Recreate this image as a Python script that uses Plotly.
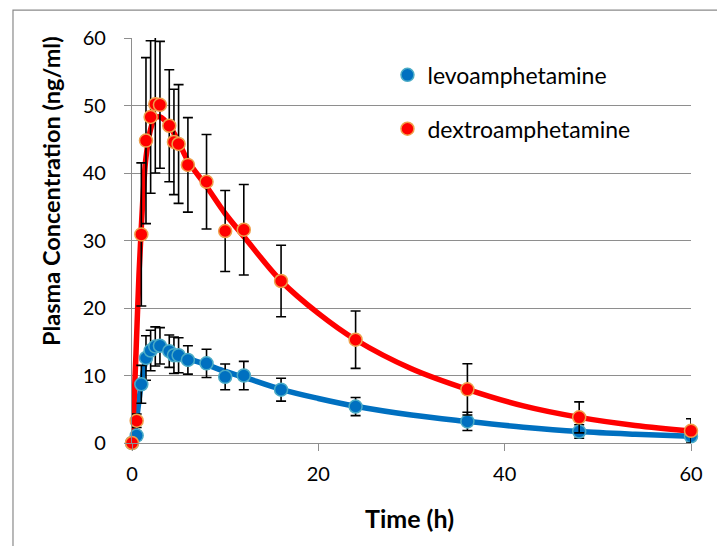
import plotly.graph_objects as go

# Sampling times (h) of the measured concentrations
time_h = [0, 0.5, 1, 1.5, 2, 2.5, 3, 4, 4.5, 5, 6, 8, 10, 12, 16, 24, 36, 48, 60]

# Mean plasma concentrations (ng/ml) and standard deviations
levo_mean = [0.0, 1.1, 8.7, 12.6, 13.7, 14.3, 14.4, 13.6, 13.0, 13.0, 12.3, 11.8,
             9.8, 10.0, 7.9, 5.4, 3.2, 1.7, 1.0]
levo_sd = [0.0, 0.6, 2.8, 3.3, 3.0, 2.9, 2.7, 2.4, 2.7, 2.6, 2.1, 2.1,
           1.9, 2.1, 1.7, 1.35, 1.35, 1.0, 0.7]
dextro_mean = [0.0, 3.3, 30.9, 44.8, 48.3, 50.2, 50.1, 47.0, 44.6, 44.3, 41.2, 38.7,
               31.4, 31.6, 24.0, 15.3, 7.95, 3.8, 1.8]
dextro_sd = [0.0, 1.0, 10.6, 12.3, 11.3, 10.2, 9.4, 8.3, 7.8, 8.8, 7.0, 7.0,
             6.0, 6.7, 5.3, 4.25, 3.8, 2.3, 1.8]

# Fitted concentration-time profiles
fit_time = [0, 0.25, 0.5, 0.75, 1, 1.25, 1.5, 2, 2.5, 3, 4, 5, 6, 8, 10, 12,
            16, 20, 24, 30, 36, 42, 48, 54, 60]
levo_fit = [0.0, 1.5, 3.6, 6.3, 8.8, 10.8, 12.2, 13.6, 14.1, 14.1, 13.6, 13.0,
            12.5, 11.6, 10.6, 9.75, 7.95, 6.6, 5.45, 4.15, 3.2, 2.35, 1.7, 1.3, 1.0]
dextro_fit = [0.0, 7.0, 16.0, 25.0, 32.0, 38.0, 42.3, 46.5, 48.2, 48.3, 47.0, 44.6,
              41.8, 38.0, 34.0, 30.6, 24.0, 19.2, 15.3, 11.0, 7.95, 5.5, 3.8, 2.6, 1.78]

BLUE = "#0070C0"
RED = "#FF0000"
GRID = "#8E8E8E"
FONT = "Lato, 'Open Sans', sans-serif"

fig = go.Figure()

fig.add_trace(go.Scatter(
    x=fit_time, y=levo_fit, mode="lines", line=dict(color=BLUE, width=5.5, shape="spline"),
    showlegend=False, hoverinfo="skip", cliponaxis=False))
fig.add_trace(go.Scatter(
    x=fit_time, y=dextro_fit, mode="lines", line=dict(color=RED, width=5.5, shape="spline"),
    showlegend=False, hoverinfo="skip", cliponaxis=False))

fig.add_trace(go.Scatter(
    x=time_h, y=levo_mean, mode="markers", name="levoamphetamine", legendgroup="levo",
    marker=dict(color=BLUE, size=13, line=dict(color="#4BACC6", width=1.5)),
    error_y=dict(type="data", array=levo_sd, visible=True, color="black",
                 thickness=1.6, width=5),
    cliponaxis=False))
fig.add_trace(go.Scatter(
    x=time_h, y=dextro_mean, mode="markers", name="dextroamphetamine", legendgroup="dextro",
    marker=dict(color=RED, size=13, line=dict(color="#F0A04B", width=1.5)),
    error_y=dict(type="data", array=dextro_sd, visible=True, color="black",
                 thickness=1.6, width=5),
    cliponaxis=False))

fig.update_layout(
    width=717, height=546,
    margin=dict(l=132, r=26, t=38, b=103),
    paper_bgcolor="white", plot_bgcolor="white",
    font=dict(family=FONT, color="black"),
    showlegend=True,
    legend=dict(x=0.457, y=0.962, xanchor="left", yanchor="top",
                bgcolor="rgba(0,0,0,0)", font=dict(size=23, family=FONT, color="black"),
                tracegroupgap=21, itemsizing="trace"),
    xaxis=dict(range=[0, 60], tickvals=[0, 20, 40, 60], showgrid=False, zeroline=False,
               showline=True, linecolor=GRID, linewidth=1.3,
               ticks="outside", ticklen=7, tickcolor=GRID, tickwidth=1.3,
               tickfont=dict(size=20, family=FONT), ticklabelstandoff=6),
    yaxis=dict(range=[0, 60], tickvals=[0, 10, 20, 30, 40, 50, 60], showgrid=True,
               gridcolor=GRID, gridwidth=1.3, zeroline=False,
               showline=True, linecolor=GRID, linewidth=1.3,
               ticks="outside", ticklen=7, tickcolor=GRID, tickwidth=1.3,
               tickfont=dict(size=20, family=FONT), ticklabelstandoff=14),
    annotations=[
        dict(text="<b>Plasma Concentration (ng/ml)</b>", xref="paper", yref="paper",
             x=-0.145, y=0.622, xanchor="center", yanchor="middle",
             textangle=-90, showarrow=False,
             font=dict(size=23.5, family=FONT, color="black")),
        dict(text="<b>Time (h)</b>", xref="paper", yref="paper",
             x=0.497, y=-0.185, xanchor="center", yanchor="middle", showarrow=False,
             font=dict(size=25, family=FONT, color="black")),
    ],
    shapes=[
        dict(type="rect", xref="paper", yref="paper",
             x0=-0.2129, y0=-1.0, x1=2.0, y1=1.069,
             line=dict(color="#8A8A8A", width=1.2), fillcolor="rgba(0,0,0,0)",
             layer="below"),
    ],
)

fig.write_html("out.html")
